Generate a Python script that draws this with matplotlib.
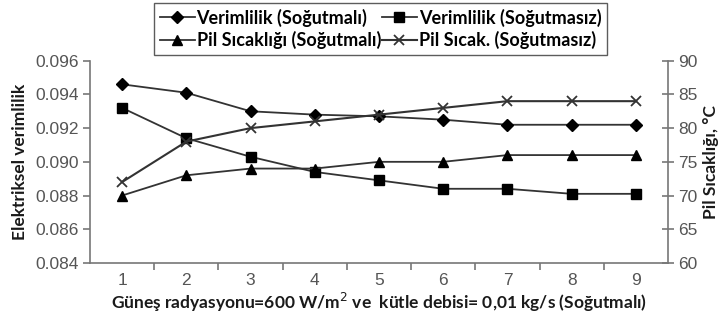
import matplotlib
matplotlib.use("Agg")
import matplotlib.pyplot as plt
import numpy as np

# ── Data
x_vals = [1, 2, 3, 4, 5, 6, 7, 8, 9]
verim_sogutmali   = [0.0946, 0.0941, 0.0930, 0.0928, 0.0927, 0.0925, 0.0922, 0.0922, 0.0922]
verim_sogutmasiz  = [0.0932, 0.0914, 0.0903, 0.0894, 0.0889, 0.0884, 0.0884, 0.0881, 0.0881]
sicaklik_sogutmali  = [70, 73, 74, 74, 75, 75, 76, 76, 76]
sicaklik_sogutmasiz = [72, 78, 80, 81, 82, 83, 84, 84, 84]

labels = ["Verimlilik (Soğutmalı)", "Verimlilik (Soğutmasız)",
          "Pil Sıcaklığı (Soğutmalı)", "Pil Sıcak. (Soğutmasız)"]
left_ticks = [0.084, 0.086, 0.088, 0.090, 0.092, 0.094, 0.096]
right_ticks = [60, 65, 70, 75, 80, 85, 90]

# ── Style
LINE_C = "#333333"
TICK_C = "#555555"
SPINE_C = "#777777"
LABEL_FONT = "Lato"
TICK_FONT = "Liberation Sans"
LABEL_SIZE = 12.5
TICK_SIZE = 12.5

fig = plt.figure(figsize=(7.24, 3.23), dpi=100)
ax1 = fig.add_axes([0.1243, 0.186, 0.7984, 0.626])
ax2 = ax1.twinx()

kw = dict(color=LINE_C, lw=1.3, markerfacecolor="black", markeredgecolor="black")
h1, = ax1.plot(x_vals, verim_sogutmali, marker="D", ms=6, **kw)
h2, = ax1.plot(x_vals, verim_sogutmasiz, marker="s", ms=7, **kw)
h3, = ax2.plot(x_vals, sicaklik_sogutmali, marker="^", ms=7.5, **kw)
h4, = ax2.plot(x_vals, sicaklik_sogutmasiz, marker="x", ms=7.5, mew=1.3, color=LINE_C)

ax1.set_xlim(0.5, 9.5)
ax1.set_ylim(0.084, 0.096)
ax2.set_ylim(60, 90)

# x: labels at integers, tick marks at half-integers
ax1.set_xticks(x_vals)
ax1.set_xticklabels([str(v) for v in x_vals], fontfamily=TICK_FONT, fontsize=TICK_SIZE, color=TICK_C)
ax1.tick_params(axis="x", length=0, pad=7)
ax1.set_xticks(np.arange(1.5, 9.5, 1.0), minor=True)
ax1.tick_params(axis="x", which="minor", length=5, width=1.2, color=SPINE_C, direction="out")

ax1.set_yticks(left_ticks)
ax1.set_yticklabels([f"{v:.3f}" for v in left_ticks], fontfamily=TICK_FONT, fontsize=TICK_SIZE, color=TICK_C)
ax1.tick_params(axis="y", length=5, width=1.2, color=SPINE_C, direction="out", pad=3)

ax2.set_yticks(right_ticks)
ax2.set_yticklabels([str(v) for v in right_ticks], fontfamily=TICK_FONT, fontsize=TICK_SIZE, color=TICK_C)
ax2.tick_params(axis="y", length=9, width=1.2, color=SPINE_C, direction="inout", pad=3)

for ax in (ax1, ax2):
    ax.spines["top"].set_visible(False)
    for s in ("left", "right", "bottom"):
        ax.spines[s].set_color(SPINE_C)
        ax.spines[s].set_linewidth(1.2)
ax1.spines["right"].set_visible(False)
ax2.spines["left"].set_visible(False)
ax2.spines["bottom"].set_visible(False)

ax1.set_ylabel("Elektriksel verimlilik", fontfamily=LABEL_FONT, fontweight="bold",
               fontsize=LABEL_SIZE, color="#1a1a1a", labelpad=5)
ax2.set_ylabel("Pil Sıcaklığı, °C", fontfamily=LABEL_FONT, fontweight="bold",
               fontsize=LABEL_SIZE, color="#1a1a1a", rotation=90, labelpad=4)
ax1.set_xlabel("Güneş radyasyonu=600 W/m$^2$ ve  kütle debisi= 0,01 kg/s (Soğutmalı)",
               fontfamily=LABEL_FONT, fontweight="bold", fontsize=LABEL_SIZE, color="#1a1a1a",
               labelpad=2)

# column-major fill: first column holds the "Soğutmalı" pair
leg = fig.legend([h1, h3, h2, h4], [labels[0], labels[2], labels[1], labels[3]],
                 loc="upper center", bbox_to_anchor=(0.5256, 0.99),
                 ncol=2, frameon=True, fancybox=False, edgecolor="#333333",
                 handlelength=1.95, handletextpad=0.1, columnspacing=0.05,
                 borderpad=0.3, labelspacing=0.25, borderaxespad=0.0,
                 prop={"family": LABEL_FONT, "weight": "bold", "size": 13})
leg.get_frame().set_linewidth(1.0)

fig.savefig("out.png", dpi=100)
